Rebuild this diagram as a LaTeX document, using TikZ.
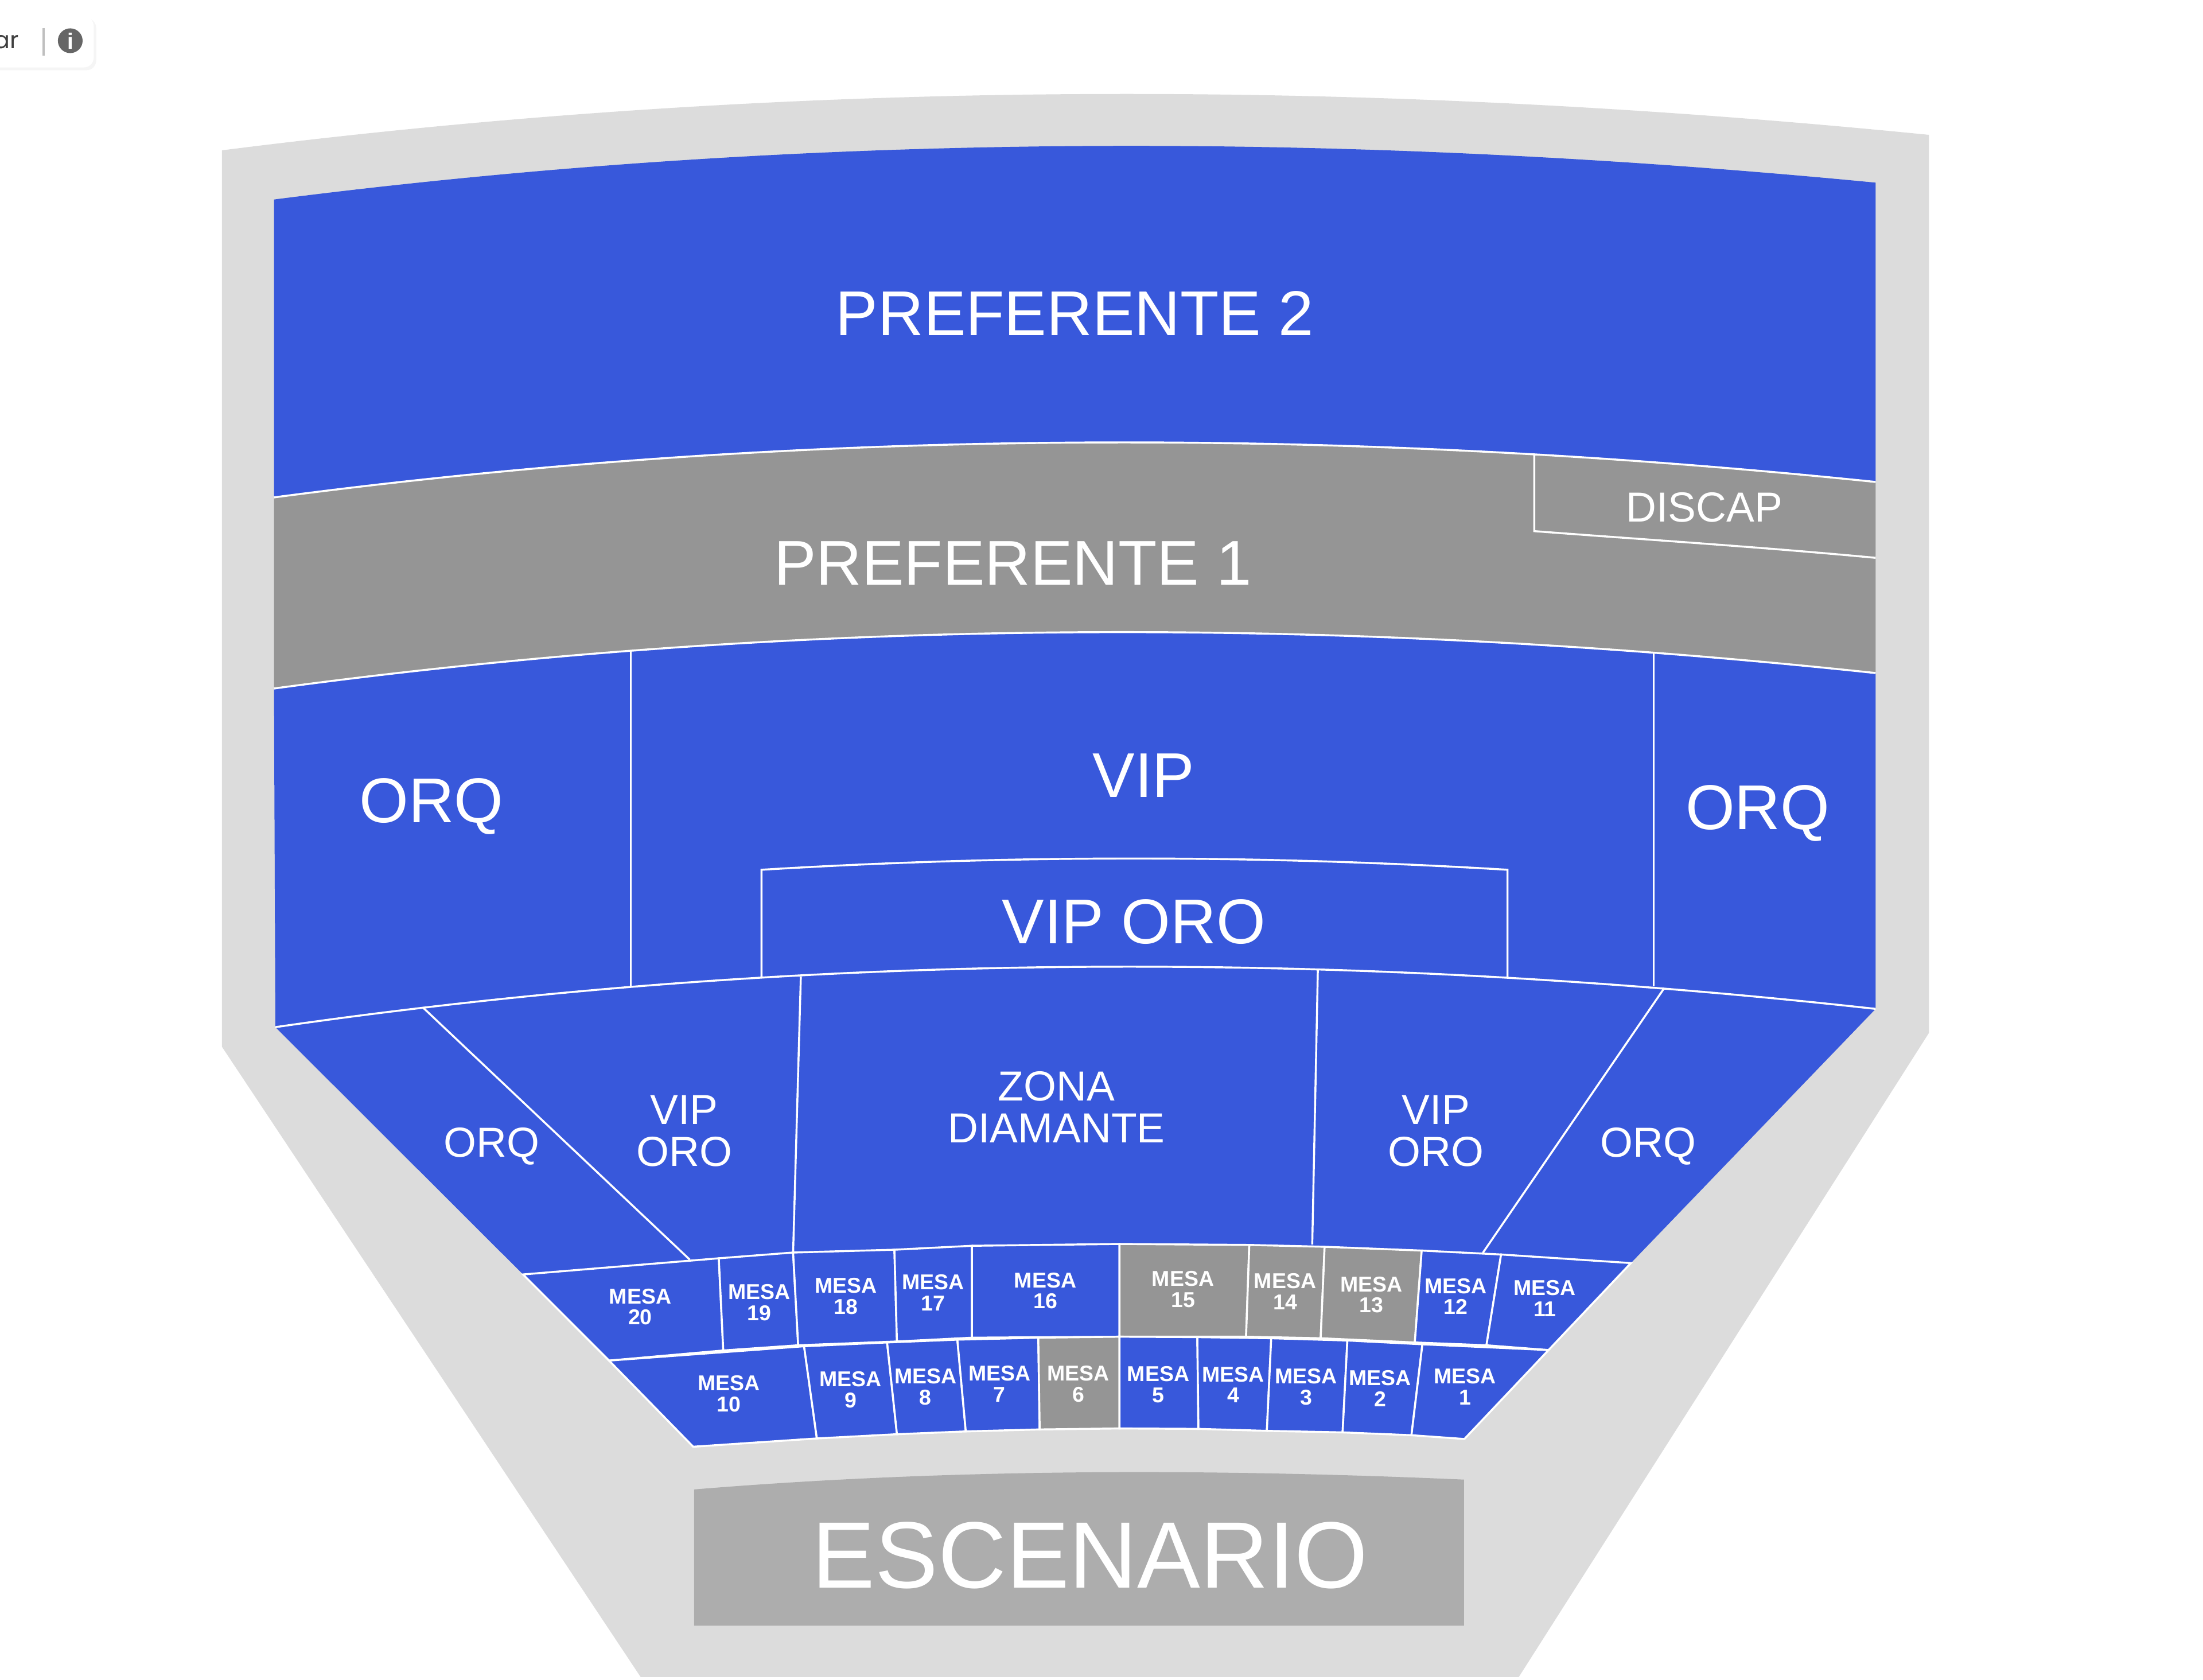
\documentclass[tikz,border=0pt]{standalone}
\usepackage{fontspec}
\setmainfont{Liberation Sans}
\newfontfamily\barfont{Poppins}
\usetikzlibrary{calc}

\definecolor{hallgray}{HTML}{DCDCDC}
\definecolor{seatblue}{HTML}{3858DB}
\definecolor{soldgray}{HTML}{959595}
\definecolor{stagegray}{HTML}{ADADAD}
\definecolor{infogray}{HTML}{666666}

\tikzset{
  divider/.style={draw=white, line width=0.4pt},
  biglabel/.style={text=white, inner sep=0pt, font=\fontsize{12.8}{13}\selectfont},
  midlabel/.style={text=white, inner sep=0pt, align=center, font=\fontsize{8.5}{8.5}\selectfont},
  mesalabel/.style={text=white, inner sep=0pt, align=center, font=\fontsize{4.35}{4.27}\selectfont\bfseries}
}

\begin{document}
\begin{tikzpicture}[x=0.01cm,y=-0.01cm]
    \path[use as bounding box, fill=white] (0,0) rectangle (1568,1195.6);

    % Small bar in the corner
    \fill[black!4, rounded corners=2pt] (-10,13) rectangle (68.5,50);
    \fill[white, rounded corners=2pt] (-10,11.6) rectangle (66.7,48);
    \node[anchor=east, inner sep=0pt, text=black!75, font=\barfont\fontsize{4.8}{5}\selectfont] (barword) at (14,30) {ar};
    \coordinate (bartop) at (31,20);
    \coordinate (barbottom) at (31,39.5);
    \draw[black!25, line width=0.5pt] (bartop) -- (barbottom);
    \node[circle, fill=infogray, text=white, inner sep=0pt, minimum size=0.176cm, font=\fontsize{4.5}{5}\selectfont\bfseries] (info) at (50,29) {i};

    % Hall behind everything
    \fill[hallgray] (158,107) .. controls (563,55.5) and (968,55.5) .. (1373,96)
        -- (1373,735) -- (1081,1193.5) -- (456,1193.5) -- (158,745) -- cycle;

    % Define the corners of the blocks
    \coordinate (prefa) at (195,354);
    \coordinate (prefb) at (1335,343);
    \coordinate (orqa) at (195,490);
    \coordinate (orqb) at (1335,479);
    \coordinate (vipa) at (449,464);
    \coordinate (vipb) at (1177,464);
    \coordinate (floora) at (196,731);
    \coordinate (floorb) at (1335,718);
    \coordinate (vipc) at (449,702);
    \coordinate (vipd) at (1177,702);

    % Define the corners of the tables
    \foreach \name/\x/\y in {a0/372.3/907, a1/511.6/895.5, a2/564.5/891.4, a3/636.6/889.4,
        a4/691.8/886.6, a5/796.8/885.3, a6/889.2/886, a7/942.8/887.3, a8/1011.9/890,
        a9/1068.4/892.8, a10/1160.8/898.9,
        b0/433.5/968.3, b1/514.8/961.1, b2/568.1/957.4, b3/638.4/954.7, b4/691.8/952,
        b5/796.8/951.3, b6/886.9/951.3, b7/940/952.4, b8/1007/955.4, b9/1058/957.4, b10/1102.2/960.8,
        c0/433.5/968.3, c1/572.3/958.1, c2/631.4/955.4, c3/681.4/953.4, c4/739/952,
        c5/796.8/951.3, c6/852.2/951.6, c7/904.8/952.4, c8/959/954, c9/1012.4/956.7, c10/1102.2/960.8,
        d0/493.4/1029.6, d1/581.4/1023.7, d2/638.4/1020.7, d3/687.4/1018.7, d4/740/1017.3,
        d5/796.8/1016.6, d6/853/1016.9, d7/901.7/1018.3, d8/955.6/1019.4, d9/1004.6/1021.4, d10/1042.3/1024.1}
    \coordinate (\name) at (\x,\y);

    % Back blocks
    \fill[seatblue] (195,142) .. controls (575,93.3) and (955,93.3) .. (1335,130) -- (prefb)
        .. controls (955,303.8) and (575,303.8) .. (prefa) -- cycle;
    \fill[soldgray] (prefa) .. controls (575,303.8) and (955,303.8) .. (prefb) -- (orqb)
        .. controls (955,438.5) and (575,438.5) .. (orqa) -- cycle;
    \fill[seatblue] (orqa) .. controls (575,438.5) and (955,438.5) .. (orqb) -- (floorb)
        -- (a10) -- (a0) -- (floora) -- cycle;

    % Draw the lines
    \draw[divider] (prefa) .. controls (575,303.8) and (955,303.8) .. (prefb);
    \draw[divider] (orqa) .. controls (575,438.5) and (955,438.5) .. (orqb);
    \draw[divider] (floora) .. controls (576,676) and (955,676) .. (floorb);
    \draw[divider] (1092,323.5) -- (1092,378) .. controls (1170,384) and (1250,389) .. (1335,397);
    \draw[divider] (vipa) -- (vipc);
    \draw[divider] (vipb) -- (vipd);
    \draw[divider] (542,695.5) -- (542,619) .. controls (718,608.3) and (896,608.3) .. (1073,619) -- (1073,695.5);
    \draw[divider] (570,695) -- (a2);
    \draw[divider] (938,690) -- (934,885.6);
    \draw[divider] (301,717) -- (491,896.5);
    \draw[divider] (1184,704) -- (1055.5,891.5);

    % Stage
    \fill[stagegray] (494,1060) .. controls (676,1045) and (860,1045) .. (1042,1053)
        -- (1042,1157) -- (494,1157) -- cycle;

    % Tables
    \foreach \tone/\upper/\lower/\i/\j in {seatblue/a/b/0/1, seatblue/a/b/1/2, seatblue/a/b/2/3, seatblue/a/b/3/4,
        seatblue/a/b/4/5, soldgray/a/b/5/6, soldgray/a/b/6/7, soldgray/a/b/7/8, seatblue/a/b/8/9, seatblue/a/b/9/10,
        seatblue/c/d/0/1, seatblue/c/d/1/2, seatblue/c/d/2/3, seatblue/c/d/3/4, soldgray/c/d/4/5,
        seatblue/c/d/5/6, seatblue/c/d/6/7, seatblue/c/d/7/8, seatblue/c/d/8/9, seatblue/c/d/9/10}
    \filldraw[divider, fill=\tone] (\upper\i) -- (\upper\j) -- (\lower\j) -- (\lower\i) -- cycle;

    \foreach \num/\x/\y in {20/455.7/930, 19/540.3/927, 18/602/922.6, 17/664/920, 16/744/918.6,
        15/842/917.6, 14/914.7/919, 13/976/921.5, 12/1036/922.6, 11/1099.6/924,
        10/518.7/992, 9/605.4/989, 8/658.8/987, 7/711.4/985, 6/767.5/985,
        5/824.4/985.5, 4/877.8/985.5, 3/929.6/987, 2/982.4/988, 1/1042.8/987}
    \node[mesalabel] (mesa\num) at (\x,\y) {MESA\\\num};

    % Labels of the blocks
    \node[biglabel] (pref2) at (765,223) {PREFERENTE 2};
    \node[biglabel] (pref1) at (721,401) {PREFERENTE 1};
    \node[midlabel] (discap) at (1213,361) {DISCAP};
    \node[biglabel] (orqleft) at (307,574) {ORQ};
    \node[biglabel] (vip) at (814,552) {VIP};
    \node[biglabel] (orqright) at (1251,579) {ORQ};
    \node[biglabel] (viporo) at (807,656) {VIP ORO};
    \node[midlabel] (orqsmallleft) at (350,816) {ORQ};
    \node[midlabel] (viporoleft) at (487,805) {VIP\\ORO};
    \node[midlabel] (diamante) at (752,788) {ZONA\\DIAMANTE};
    \node[midlabel] (vipororight) at (1022,805) {VIP\\ORO};
    \node[midlabel] (orqsmallright) at (1173,816) {ORQ};
    \node[text=white, inner sep=0pt, font=\fontsize{19.1}{20}\selectfont] (escenario) at (776,1107) {ESCENARIO};
\end{tikzpicture}
\end{document}
